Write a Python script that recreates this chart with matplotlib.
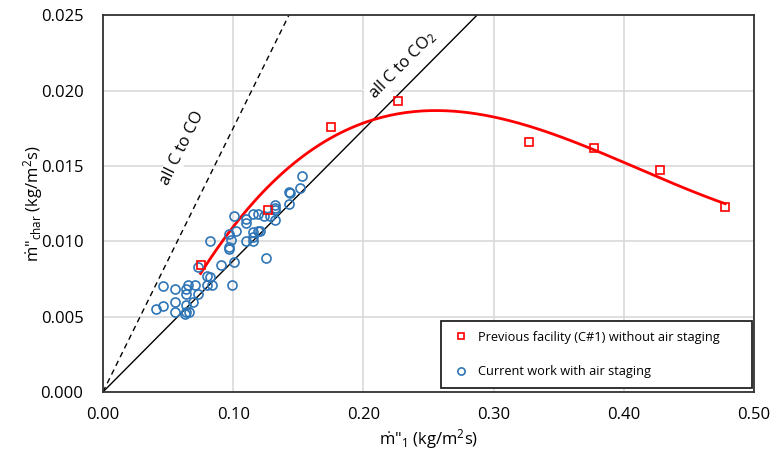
import numpy as np
import matplotlib
import matplotlib.pyplot as plt
from matplotlib.ticker import FormatStrFormatter, MultipleLocator

matplotlib.use("Agg")

plt.rcParams["font.family"] = ["Open Sans", "DejaVu Sans"]
plt.rcParams["mathtext.fontset"] = "custom"
plt.rcParams["mathtext.rm"] = "Open Sans"
plt.rcParams["mathtext.it"] = "Open Sans:italic"

# previous facility (C#1), no air staging
prev_m1 = [0.075, 0.127, 0.175, 0.227, 0.327, 0.377, 0.428, 0.478]
prev_char = [0.0084, 0.0121, 0.0176, 0.0193, 0.0166, 0.0162, 0.0147, 0.0123]

# current work, with air staging
cur_m1 = [0.153, 0.151, 0.143, 0.144, 0.143, 0.132, 0.132, 0.132, 0.128, 0.132,
          0.124, 0.119, 0.115, 0.110, 0.110, 0.101, 0.102, 0.097, 0.098, 0.097,
          0.097, 0.110, 0.115, 0.115, 0.119, 0.121, 0.115, 0.125, 0.082, 0.101,
          0.091, 0.073, 0.080, 0.082, 0.080, 0.084, 0.099, 0.071, 0.065, 0.064,
          0.064, 0.055, 0.046, 0.073, 0.069, 0.055, 0.046, 0.041, 0.064, 0.064,
          0.066, 0.063, 0.055]
cur_char = [0.0143, 0.0135, 0.0133, 0.0132, 0.0125, 0.0124, 0.0122, 0.0121, 0.0117, 0.0114,
            0.0117, 0.0118, 0.0118, 0.0115, 0.0112, 0.0117, 0.0107, 0.0105, 0.0101, 0.0096,
            0.0095, 0.0100, 0.0100, 0.0106, 0.0107, 0.0107, 0.0103, 0.0089, 0.0100, 0.0086,
            0.0084, 0.0083, 0.0077, 0.0076, 0.0071, 0.0071, 0.0071, 0.0071, 0.0071, 0.0068,
            0.0065, 0.0068, 0.0070, 0.0065, 0.0060, 0.0060, 0.0057, 0.0055, 0.0058, 0.0053,
            0.0053, 0.0052, 0.0053]

# stoichiometric limits: char fraction if all carbon goes to CO2 / CO
slope_co2 = 0.087
slope_co = 0.175

fig = plt.figure(figsize=(7.74, 4.59), dpi=100)
ax = fig.add_axes([0.133, 0.146, 0.841, 0.821])

ax.set_xlim(0, 0.5)
ax.set_ylim(0, 0.025)
ax.xaxis.set_major_locator(MultipleLocator(0.1))
ax.yaxis.set_major_locator(MultipleLocator(0.005))
ax.xaxis.set_major_formatter(FormatStrFormatter("%.2f"))
ax.yaxis.set_major_formatter(FormatStrFormatter("%.3f"))
ax.grid(True, color="#d9d9d9", linewidth=1.2)
ax.set_axisbelow(True)
ax.tick_params(length=0, labelsize=12)
ax.tick_params(axis="y", pad=14)
ax.tick_params(axis="x", pad=11)
for sp in ax.spines.values():
    sp.set_color("#333333")
    sp.set_linewidth(1.3)

xl = np.array([0, 0.5])
ax.plot(xl, slope_co2 * xl, color="black", lw=1.0)
ax.plot(xl, slope_co * xl, color="black", lw=1.0, ls=(0, (4, 3)))

# cubic trendline through the previous-facility points
coef = np.polyfit(prev_m1, prev_char, 3)
xf = np.linspace(min(prev_m1), max(prev_m1), 200)
ax.plot(xf, np.polyval(coef, xf), color="red", lw=2)

ax.plot(cur_m1, cur_char, ls="none", marker="o", ms=6.5, mfc="none",
        mec="#2E75B6", mew=1.2, label="Current work with air staging")
ax.plot(prev_m1, prev_char, ls="none", marker="s", ms=6, mfc="none",
        mec="red", mew=1.2, label="Previous facility (C#1) without air staging")

ax.text(0.061, 0.0162, "all C to CO", rotation=np.degrees(np.arctan(slope_co)),
        transform_rotates_text=True, rotation_mode="anchor",
        ha="center", va="center", fontsize=12,
        bbox=dict(facecolor="white", edgecolor="none", pad=1))
ax.text(0.230, 0.0217, "all C to CO$_2$", rotation=np.degrees(np.arctan(slope_co2)),
        transform_rotates_text=True, rotation_mode="anchor",
        ha="center", va="center", fontsize=12,
        bbox=dict(facecolor="white", edgecolor="none", pad=1))

h, l = ax.get_legend_handles_labels()
leg = ax.legend(h[::-1], l[::-1], loc="lower left", mode="expand",
                bbox_to_anchor=(0.519, 0.011, 0.478, 0.185), borderaxespad=0,
                fontsize=9.2, frameon=True, fancybox=False,
                labelspacing=1.7, handletextpad=0.6, borderpad=0.75,
                handlelength=1.6, markerscale=0.8)
leg.get_frame().set_edgecolor("#222222")
leg.get_frame().set_linewidth(1.3)
leg.get_frame().set_alpha(1)

ax.set_xlabel('$\\dot{\\mathrm{m}}$"$_1$ (kg/m$^2$s)', fontsize=12, labelpad=3)
ax.set_ylabel('$\\dot{\\mathrm{m}}$"$_{\\mathrm{char}}$ (kg/m$^2$s)', fontsize=12, labelpad=-3)

fig.savefig("out.png", dpi=100)
